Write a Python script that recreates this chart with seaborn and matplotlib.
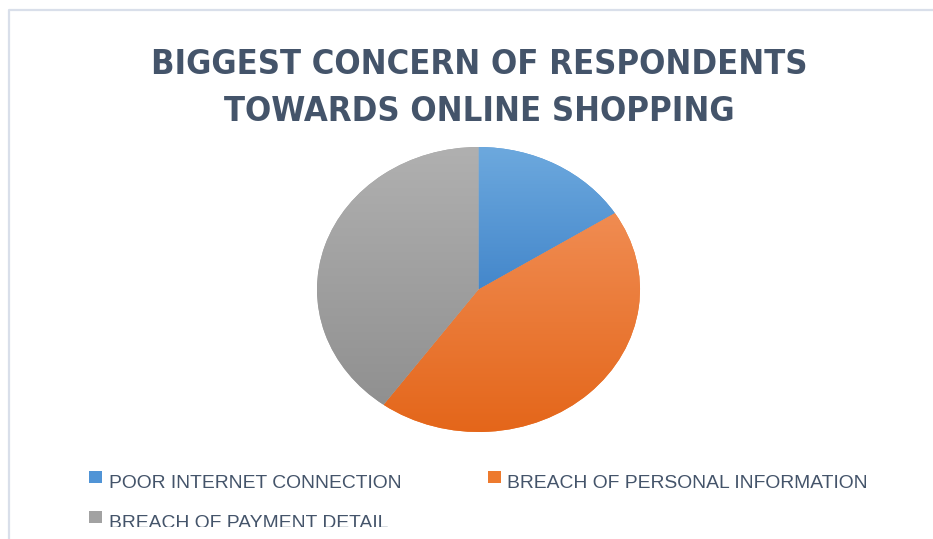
import matplotlib
matplotlib.use("Agg")
import matplotlib.pyplot as plt
import seaborn as sns
import numpy as np
from matplotlib import font_manager
from matplotlib.colors import LinearSegmentedColormap
from matplotlib.patches import Rectangle
from matplotlib.lines import Line2D
from matplotlib.transforms import Bbox, TransformedBbox

# --- data -------------------------------------------------------------
categories = [
    "POOR INTERNET CONNECTION",
    "BREACH OF PERSONAL INFORMATION",
    "BREACH OF PAYMENT DETAIL",
]
shares = [16, 44, 40]
title_lines = ["BIGGEST CONCERN OF RESPONDENTS", "TOWARDS ONLINE SHOPPING"]

# --- style ------------------------------------------------------------
top_colors = ["#6da9de", "#f08c52", "#b0b0b0"]
bottom_colors = ["#4487cb", "#e4661a", "#909090"]
key_colors = sns.color_palette(["#5094d6", "#ed7a2e", "#a2a2a2"])
text_color = "#44546a"
frame_color = "#d9dfea"

sns.set_theme(style="white")
plt.rcParams["font.family"] = ["Liberation Sans", "DejaVu Sans"]


def weight_num(w):
    names = {"light": 300, "normal": 400, "regular": 400, "medium": 500,
             "semibold": 600, "demibold": 600, "bold": 700, "heavy": 800,
             "extra bold": 800, "black": 900}
    return w if isinstance(w, (int, float)) else names.get(str(w).lower(), 400)


# a narrow bold face for the heading when one is installed
title_family = ["Liberation Sans", "DejaVu Sans"]
title_stretch = "normal"
for f in font_manager.fontManager.ttflist:
    narrow_name = ("Narrow" in f.name or "Condensed" in f.name)
    narrow_stretch = f.stretch in ("condensed", "semi-condensed")
    if (narrow_name or narrow_stretch) and weight_num(f.weight) >= 600 \
            and "Mono" not in f.name and "Serif" not in f.name \
            and f.style == "normal":
        title_family = [f.name, "Liberation Sans", "DejaVu Sans"]
        title_stretch = f.stretch if narrow_stretch else "normal"
        break

W, H = 933, 539
fig = plt.figure(figsize=(W / 100, H / 100), dpi=100)
fig.patch.set_facecolor("white")


def fx(x):
    return x / W


def fy(y):
    return 1 - y / H


# outer chart-area border (top and left edges)
fig.add_artist(Line2D([fx(9), fx(9), fx(W)], [fy(H), fy(10), fy(10)],
                      transform=fig.transFigure, color=frame_color, lw=1.6))

# --- pie --------------------------------------------------------------
ax = fig.add_axes([fx(317), fy(432), (640 - 317) / W, (432 - 147) / H])
wedges, _ = ax.pie(shares, startangle=90, counterclock=False,
                   colors=key_colors, wedgeprops=dict(linewidth=0))

# vertical shading inside every slice, lighter at its top
grad = np.linspace(1, 0, 256).reshape(-1, 1)
for w, ctop, cbot in zip(wedges, top_colors, bottom_colors):
    ext = w.get_path().get_extents()
    cmap = LinearSegmentedColormap.from_list("shade", [cbot, ctop])
    im = ax.imshow(grad, cmap=cmap, vmin=0, vmax=1, origin="upper",
                   extent=[ext.x0, ext.x1, ext.y0, ext.y1],
                   interpolation="bicubic", zorder=w.get_zorder() + 0.1)
    im.set_clip_path(w)

ax.set_xlim(-1, 1)
ax.set_ylim(-1, 1)
ax.set_aspect("auto")
ax.axis("off")

# --- title ------------------------------------------------------------
fig.canvas.draw()
renderer = fig.canvas.get_renderer()


def fit_width(t, target_px):
    w = t.get_window_extent(renderer).width
    t.set_fontsize(t.get_fontsize() * target_px / w)


t1 = fig.text(fx(479), fy(74), title_lines[0], ha="center", va="baseline",
              fontsize=26, fontweight="bold", color=text_color,
              family=title_family, fontstretch=title_stretch)
fit_width(t1, 658)
t2 = fig.text(fx(479), fy(121), title_lines[1], ha="center", va="baseline",
              fontsize=t1.get_fontsize(), fontweight="bold", color=text_color,
              family=title_family, fontstretch=title_stretch)

# --- legend -----------------------------------------------------------
key_pos = [(89, 471), (488, 471), (89, 511)]
label_x = [109, 507, 109]
label_base = [488, 488, 528]

texts = []
for i, (cat, col) in enumerate(zip(categories, key_colors)):
    kx, ky = key_pos[i]
    fig.add_artist(Rectangle((fx(kx), fy(ky + 12)), 13 / W, 12 / H,
                             transform=fig.transFigure, facecolor=col,
                             edgecolor="none"))
    t = fig.text(fx(label_x[i]), fy(label_base[i]), cat, ha="left",
                 va="baseline", fontsize=14, color=text_color)
    texts.append(t)

fit_width(texts[0], 294)
for t in texts[1:]:
    t.set_fontsize(texts[0].get_fontsize())

# the lower row runs past the bottom edge of the chart area
clip = TransformedBbox(Bbox.from_extents(0, fy(526.5), 1, 1), fig.transFigure)
texts[2].set_clip_box(clip)
texts[2].set_clip_on(True)

fig.savefig("out.png", dpi=100)
